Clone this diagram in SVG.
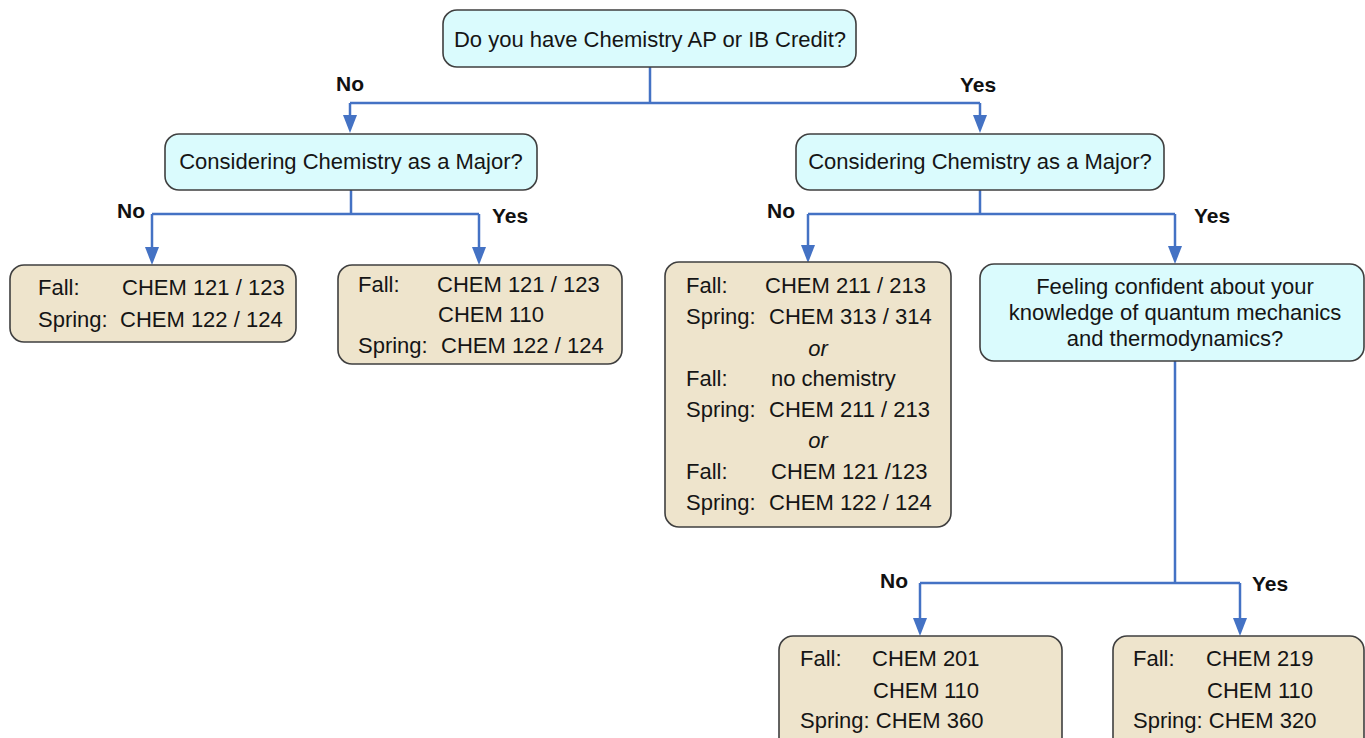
<svg xmlns="http://www.w3.org/2000/svg" width="1365" height="738" viewBox="0 0 1365 738">
<style>
.q{fill:#dafbfd;stroke:#3f3f3f;stroke-width:1.6}
.leaf{fill:#eee4cc;stroke:#3f3f3f;stroke-width:1.6}
.t{font-family:"Liberation Sans",Arial,sans-serif;font-size:22px;fill:#151515}
.qt{font-family:"Liberation Sans",Arial,sans-serif;font-size:22px;fill:#151515}
.lb{font-family:"Liberation Sans",Arial,sans-serif;font-size:21px;font-weight:bold;fill:#111}
.c{fill:none;stroke:#4472c4;stroke-width:2.5}
.ah{fill:#4472c4}
</style>
<rect width="1365" height="738" fill="#ffffff"/>
<g id="connectors">
<path class="c" d="M650,67 V103 M350,103 H980"/>
<path class="c" d="M350,103 V116"/><polygon class="ah" points="343,115 357,115 350,133"/>
<path class="c" d="M980,103 V116"/><polygon class="ah" points="973,115 987,115 980,133"/>
<path class="c" d="M351,190 V214 M152,214 H479"/>
<path class="c" d="M152,214 V248"/><polygon class="ah" points="145,247 159,247 152,265"/>
<path class="c" d="M479,214 V248"/><polygon class="ah" points="472,247 486,247 479,265"/>
<path class="c" d="M980,190 V214 M808,214 H1175"/>
<path class="c" d="M808,214 V246"/><polygon class="ah" points="801,245 815,245 808,263"/>
<path class="c" d="M1175,214 V247"/><polygon class="ah" points="1168,246 1182,246 1175,264"/>
<path class="c" d="M1175,361 V583 M920,583 H1240"/>
<path class="c" d="M920,583 V619"/><polygon class="ah" points="913,618 927,618 920,636"/>
<path class="c" d="M1240,583 V619"/><polygon class="ah" points="1233,618 1247,618 1240,636"/>
</g>
<g id="labels">
<text class="lb" x="336" y="91">No</text>
<text class="lb" x="960" y="92">Yes</text>
<text class="lb" x="117" y="218">No</text>
<text class="lb" x="492" y="223">Yes</text>
<text class="lb" x="767" y="218">No</text>
<text class="lb" x="1194" y="223">Yes</text>
<text class="lb" x="880" y="588">No</text>
<text class="lb" x="1252" y="591">Yes</text>
</g>
<g id="q1">
<rect class="q" x="443" y="10" width="413" height="57" rx="14"/>
<text class="qt" x="650" y="47" text-anchor="middle">Do you have Chemistry AP or IB Credit?</text>
</g>
<g id="q2">
<rect class="q" x="165" y="134" width="372" height="56" rx="14"/>
<text class="qt" x="351" y="169" text-anchor="middle">Considering Chemistry as a Major?</text>
</g>
<g id="q3">
<rect class="q" x="796" y="134" width="368" height="56" rx="14"/>
<text class="qt" x="980" y="169" text-anchor="middle">Considering Chemistry as a Major?</text>
</g>
<g id="leaf1">
<rect class="leaf" x="10" y="265" width="286" height="77" rx="14"/>
<text class="t" x="38" y="295">Fall:</text><text class="t" x="122" y="295">CHEM 121 / 123</text>
<text class="t" x="38" y="327">Spring:</text><text class="t" x="120" y="327">CHEM 122 / 124</text>
</g>
<g id="leaf2">
<rect class="leaf" x="338" y="265" width="284" height="99" rx="14"/>
<text class="t" x="358" y="292">Fall:</text><text class="t" x="437" y="292">CHEM 121 / 123</text>
<text class="t" x="438" y="322">CHEM 110</text>
<text class="t" x="358" y="353">Spring:</text><text class="t" x="441" y="353">CHEM 122 / 124</text>
</g>
<g id="leaf3">
<rect class="leaf" x="665" y="262" width="286" height="265" rx="14"/>
<text class="t" x="686" y="293">Fall:</text><text class="t" x="765" y="293">CHEM 211 / 213</text>
<text class="t" x="686" y="324">Spring:</text><text class="t" x="769" y="324">CHEM 313 / 314</text>
<text class="t" x="818" y="356" text-anchor="middle" font-style="italic">or</text>
<text class="t" x="686" y="386">Fall:</text><text class="t" x="771" y="386">no chemistry</text>
<text class="t" x="686" y="417">Spring:</text><text class="t" x="769" y="417">CHEM 211 / 213</text>
<text class="t" x="818" y="448" text-anchor="middle" font-style="italic">or</text>
<text class="t" x="686" y="479">Fall:</text><text class="t" x="771" y="479">CHEM 121 /123</text>
<text class="t" x="686" y="510">Spring:</text><text class="t" x="769" y="510">CHEM 122 / 124</text>
</g>
<g id="q4">
<rect class="q" x="980" y="264" width="384" height="97" rx="14"/>
<text class="qt" x="1175" y="294" text-anchor="middle">Feeling confident about your</text>
<text class="qt" x="1175" y="320" text-anchor="middle">knowledge of quantum mechanics</text>
<text class="qt" x="1175" y="346" text-anchor="middle">and thermodynamics?</text>
</g>
<g id="leaf4">
<rect class="leaf" x="779" y="636" width="283" height="120" rx="14"/>
<text class="t" x="800" y="666">Fall:</text><text class="t" x="872" y="666">CHEM 201</text>
<text class="t" x="873" y="698">CHEM 110</text>
<text class="t" x="800" y="728">Spring: CHEM 360</text>
</g>
<g id="leaf5">
<rect class="leaf" x="1113" y="636" width="251" height="120" rx="14"/>
<text class="t" x="1133" y="666">Fall:</text><text class="t" x="1206" y="666">CHEM 219</text>
<text class="t" x="1207" y="698">CHEM 110</text>
<text class="t" x="1133" y="728">Spring: CHEM 320</text>
</g>
</svg>
